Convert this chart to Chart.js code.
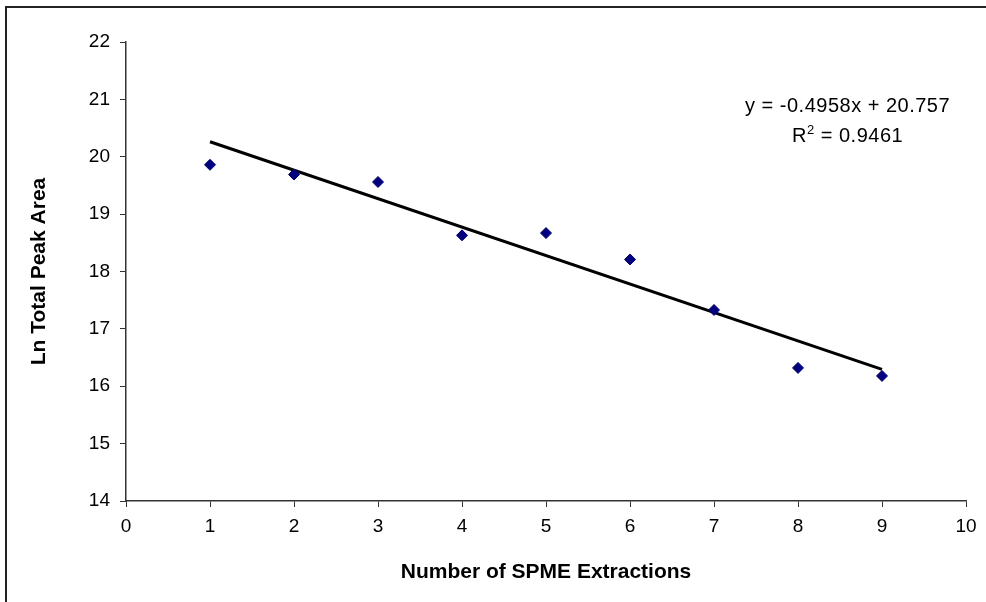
<!DOCTYPE html>
<html>
<head>
<meta charset="utf-8">
<script src="https://cdn.jsdelivr.net/npm/chart.js@4/dist/chart.umd.min.js"></script>
<style>
  html, body { margin: 0; padding: 0; background: #fff; }
  #wrap { width: 986px; height: 602px; position: relative; }
</style>
</head>
<body>
<div id="wrap"><canvas id="myChart"></canvas></div>
<script>
// extraction number and ln(total peak area)
const extractions = [1, 2, 3, 4, 5, 6, 7, 8, 9];
const lnPeakArea = [19.86, 19.69, 19.56, 18.63, 18.67, 18.21, 17.33, 16.32, 16.18];

// linear trendline reported on the chart
const slope = -0.4958;
const intercept = 20.757;
const trendX = [1, 9];
const equationText = 'y = -0.4958x + 20.757';
const r2Text = ' = 0.9461';

const font = "'Liberation Sans', Arial, sans-serif";

const scatterData = extractions.map((x, i) => ({ x: x, y: lnPeakArea[i] }));
const trendData = trendX.map(x => ({ x: x, y: slope * x + intercept }));

// outer frame + equation text
const extras = {
  id: 'extras',
  beforeDraw(chart) {
    const c = chart.ctx;
    c.save();
    c.strokeStyle = '#222';
    c.lineWidth = 2;
    c.beginPath();
    c.moveTo(6, 620);
    c.lineTo(6, 7);
    c.lineTo(1000, 7);
    c.stroke();
    c.restore();
  },
  afterDraw(chart) {
    const c = chart.ctx;
    const xs = chart.scales.x, ys = chart.scales.y;
    const cx = xs.getPixelForValue(8.59);
    c.save();
    c.fillStyle = '#000';
    c.letterSpacing = '0.5px';
    c.font = '20px ' + font;
    c.textAlign = 'center';
    c.textBaseline = 'middle';
    c.fillText(equationText, cx, ys.getPixelForValue(20.87));
    // R² line
    const y2 = ys.getPixelForValue(20.35);
    const wR = c.measureText('R').width;
    c.font = '13px ' + font;
    const w2 = c.measureText('2').width;
    c.font = '20px ' + font;
    const wRest = c.measureText(r2Text).width;
    let x0 = cx - (wR + w2 + wRest) / 2;
    c.textAlign = 'left';
    c.fillText('R', x0, y2);
    c.font = '13px ' + font;
    c.fillText('2', x0 + wR, y2 - 6);
    c.font = '20px ' + font;
    c.fillText(r2Text, x0 + wR + w2, y2);
    c.restore();
  }
};

const config = {
  type: 'scatter',
  data: {
    datasets: [
      {
        label: 'Ln Total Peak Area',
        data: scatterData,
        pointStyle: 'rectRot',
        pointRadius: 5.5,
        backgroundColor: '#000080',
        borderColor: '#000080',
        borderWidth: 1,
        order: 1
      },
      {
        label: 'Linear trend',
        type: 'line',
        data: trendData,
        borderColor: '#000',
        borderWidth: 3,
        pointRadius: 0,
        fill: false,
        order: 2
      }
    ]
  },
  options: {
    responsive: true,
    maintainAspectRatio: false,
    animation: false,
    layout: { padding: { left: 0, top: 42, right: 20, bottom: 0 } },
    plugins: {
      legend: { display: false },
      tooltip: { enabled: false }
    },
    scales: {
      x: {
        type: 'linear',
        min: 0,
        max: 10,
        afterFit: s => { s.height = 101; },
        grid: {
          drawOnChartArea: false,
          drawTicks: true,
          tickLength: 6,
          color: '#333',
          tickColor: '#333'
        },
        border: { color: '#333', width: 1.5 },
        ticks: {
          stepSize: 1,
          color: '#000',
          padding: 8,
          font: { family: font, size: 19 }
        },
        title: {
          display: true,
          text: 'Number of SPME Extractions',
          color: '#000',
          padding: { top: 0, bottom: 17 },
          font: { family: font, size: 21, weight: 'bold' }
        }
      },
      y: {
        min: 14,
        max: 22,
        afterFit: s => { s.width = 126; },
        grid: {
          drawOnChartArea: false,
          drawTicks: true,
          tickLength: 6,
          color: '#333',
          tickColor: '#333'
        },
        border: { color: '#333', width: 1.5 },
        ticks: {
          stepSize: 1,
          color: '#000',
          padding: 10,
          font: { family: font, size: 19 }
        },
        title: {
          display: true,
          text: 'Ln Total Peak Area',
          color: '#000',
          padding: { top: 27, bottom: 0 },
          font: { family: font, size: 21, weight: 'bold' }
        }
      }
    }
  },
  plugins: [extras]
};

new Chart(document.getElementById('myChart'), config);
</script>
</body>
</html>
